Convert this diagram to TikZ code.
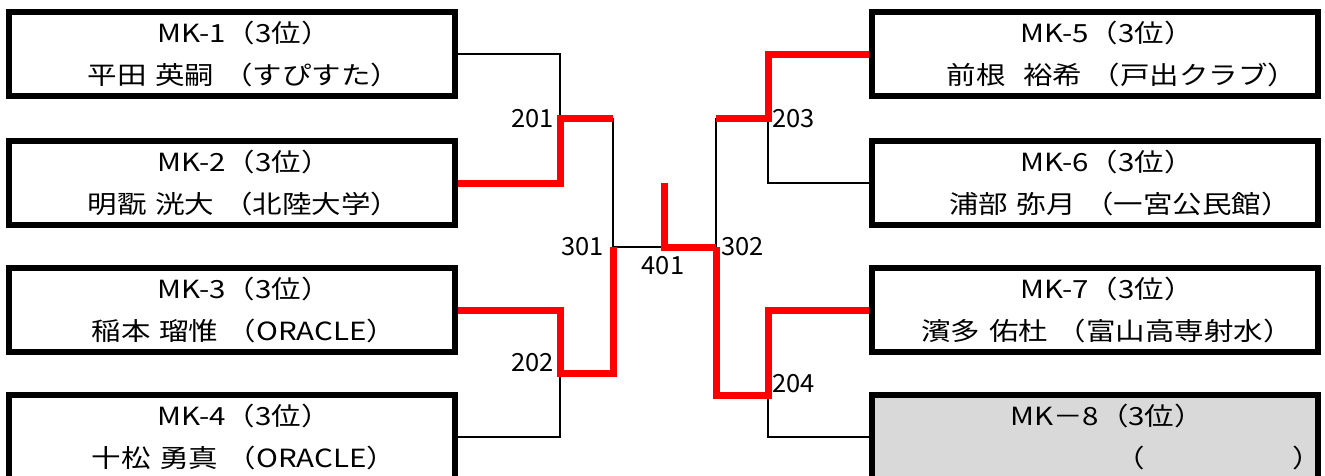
\documentclass[tikz,border=0pt]{standalone}
\usepackage{fontspec}
\newfontfamily\jpfont[FakeStretch=1.18,WordSpace=1.3]{Noto Sans CJK JP}
\newfontfamily\numfont[FakeStretch=1.02]{Noto Sans CJK JP}
\usetikzlibrary{positioning}
\definecolor{winred}{RGB}{255,0,0}
\definecolor{emptygray}{RGB}{217,217,217}

\begin{document}
\begin{tikzpicture}[x=1pt, y=-1pt, font=\jpfont\fontsize{25}{42}\selectfont,
  player/.style={draw, line width=6pt, minimum width=446pt, minimum height=84pt,
    inner sep=0pt},
  names/.style={align=center, inner sep=0pt},
  lose/.style={line width=2.2pt, black},
  win/.style={line width=7pt, winred},
  matchno/.style={inner sep=1pt, font=\numfont\fontsize{25}{30}\selectfont}]
  \useasboundingbox (0,0) rectangle (1325,475);

  % players, left and right half
  \foreach \pn/\py/\pl in {1/54/平田 英嗣 （すぴすた）, 2/183/明翫 洸大 （北陸大学）,
      3/310/稲本 瑠惟 （ORACLE）, 4/437/十松 勇真 （ORACLE）}
  { \node[player] (b\pn) at (232,\py) {};
    \node[names] (t\pn) at ([xshift=12pt]b\pn.center) {MK-\pn（3位）\\\pl}; }
  \foreach \pn/\py/\pl in {5/54/\hspace*{30pt}前根~~裕希 （戸出クラブ）,
      6/183/\hspace*{26pt}浦部 弥月 （一宮公民館）, 7/310/濱多 佑杜 （富山高専射水）}
  { \node[player] (b\pn) at (1095,\py) {};
    \node[names] (t\pn) at ([xshift=12pt]b\pn.center) {MK-\pn（3位）\\\pl}; }
  \node[player, fill=emptygray] (b8) at (1095,437) {};
  \node[names] (t8) at ([xshift=12pt]b8.center)
    {MK－8（3位）\\\makebox[0pt][l]{\hspace*{8pt}（　　　　　）}};

  % junctions of the bracket
  \coordinate (j201) at (560,118);
  \coordinate (j202) at (560,373);
  \coordinate (j301) at (613,247);
  \coordinate (j401) at (664,247);
  \coordinate (top401) at (664,183);
  \coordinate (j302) at (716,247);
  \coordinate (j203) at (768,118);
  \coordinate (j204) at (768,395);

  % lines of the losers first, winners on top
  \draw[lose] (b1.east) -| (j201);
  \draw[lose] (b4.east) -| (j202);
  \draw[lose] (j201 -| j301) -- (j301) -- (j401);
  \draw[lose] (j302) -- (j302 |- j203);
  \draw[lose] (j203) |- (b6.west);
  \draw[lose] (j204) |- (b8.west);

  \draw[win] (b2.east) -| (j201) -- (j201 -| j301);
  \draw[win] (b3.east) -| (j202) -| (j301);
  \draw[win] (top401) -- (j401) -- (j302);
  \draw[win] (j302 |- j203) -- (j203) |- (b5.west);
  \draw[win] (j302) |- (j204) |- (b7.west);

  % match numbers
  \node[matchno, anchor=east] (n201) at (555,119) {201};
  \node[matchno, anchor=east] (n202) at (555,363) {202};
  \node[matchno, anchor=east] (n301) at (605,247) {301};
  \node[matchno] (n401) at (663,266) {401};
  \node[matchno, anchor=west] (n302) at (720,247) {302};
  \node[matchno, anchor=west] (n203) at (771,119) {203};
  \node[matchno, anchor=west] (n204) at (771,384) {204};
\end{tikzpicture}
\end{document}
